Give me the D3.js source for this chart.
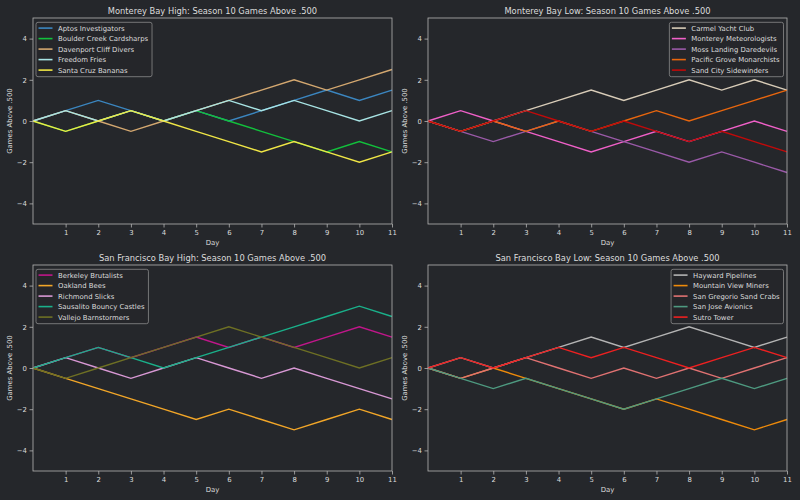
<!DOCTYPE html>
<html><head><meta charset="utf-8">
<script src="https://cdn.jsdelivr.net/npm/d3@7"></script>
<style>
html,body{margin:0;padding:0;background:#25272b;}
svg{display:block;font-family:"DejaVu Sans",sans-serif;}
</style></head>
<body><svg id="chart" width="800" height="500"></svg>
<script>
const days = [0,1,2,3,4,5,6,7,8,9,10,11];
const xTicks = [1,2,3,4,5,6,7,8,9,10,11];
const yTicks = [-4,-2,0,2,4];

const titles = [
  "Monterey Bay High: Season 10 Games Above .500",
  "Monterey Bay Low: Season 10 Games Above .500",
  "San Francisco Bay High: Season 10 Games Above .500",
  "San Francisco Bay Low: Season 10 Games Above .500"
];

// Monterey Bay High
const mbhTeams = ["Aptos Investigators","Boulder Creek Cardsharps","Davenport Cliff Divers","Freedom Fries","Santa Cruz Bananas"];
const mbhColors = ["#3b86c0","#12c03c","#d4a870","#a8e4e4","#f0e646"];
const aptos     = [0,0.5,1,0.5,0,0.5,0,0.5,1,1.5,1,1.5];
const boulder   = [0,-0.5,0,0.5,0,0.5,0,-0.5,-1,-1.5,-1,-1.5];
const davenport = [0,0.5,0,-0.5,0,0.5,1,1.5,2,1.5,2,2.5];
const freedom   = [0,0.5,0,0.5,0,0.5,1,0.5,1,0.5,0,0.5];
const santaCruz = [0,-0.5,0,0.5,0,-0.5,-1,-1.5,-1,-1.5,-2,-1.5];

// Monterey Bay Low
const mblTeams = ["Carmel Yacht Club","Monterey Meteorologists","Moss Landing Daredevils","Pacific Grove Monarchists","Sand City Sidewinders"];
const mblColors = ["#d8ccb8","#f060c8","#9a5aa8","#e8660e","#c00a0a"];
const carmel   = [0,-0.5,0,0.5,1,1.5,1,1.5,2,1.5,2,1.5];
const montMet  = [0,0.5,0,-0.5,-1,-1.5,-1,-0.5,-1,-0.5,0,-0.5];
const moss     = [0,-0.5,-1,-0.5,0,-0.5,-1,-1.5,-2,-1.5,-2,-2.5];
const pacific  = [0,-0.5,0,-0.5,0,-0.5,0,0.5,0,0.5,1,1.5];
const sandCity = [0,-0.5,0,0.5,0,-0.5,0,-0.5,-1,-0.5,-1,-1.5];

// San Francisco Bay High
const sfhTeams = ["Berkeley Brutalists","Oakland Bees","Richmond Slicks","Sausalito Bouncy Castles","Vallejo Barnstormers"];
const sfhColors = ["#c0168a","#f2a628","#d898d4","#1ab08a","#6e7024"];
const berkeley  = [0,0.5,1,0.5,1,1.5,1,1.5,1,1.5,2,1.5];
const oakland   = [0,-0.5,-1,-1.5,-2,-2.5,-2,-2.5,-3,-2.5,-2,-2.5];
const richmond  = [0,0.5,0,-0.5,0,0.5,0,-0.5,0,-0.5,-1,-1.5];
const sausalito = [0,0.5,1,0.5,0,0.5,1,1.5,2,2.5,3,2.5];
const vallejo   = [0,-0.5,0,0.5,1,1.5,2,1.5,1,0.5,0,0.5];

// San Francisco Bay Low
const sflTeams = ["Hayward Pipelines","Mountain View Miners","San Gregorio Sand Crabs","San Jose Avionics","Sutro Tower"];
const sflColors = ["#b4b4b4","#ee8a0a","#e07272","#4e9a80","#ee2020"];
const hayward   = [0,0.5,0,0.5,1,1.5,1,1.5,2,1.5,1,1.5];
const mtnView   = [0,-0.5,0,-0.5,-1,-1.5,-2,-1.5,-2,-2.5,-3,-2.5];
const gregorio  = [0,-0.5,0,0.5,0,-0.5,0,-0.5,0,-0.5,0,0.5];
const sanJose   = [0,-0.5,-1,-0.5,-1,-1.5,-2,-1.5,-1,-0.5,-1,-0.5];
const sutro     = [0,0.5,0,0.5,1,0.5,1,0.5,0,0.5,1,0.5];

const panels = [
  {title:titles[0], teams:mbhTeams, colors:mbhColors, series:[aptos,boulder,davenport,freedom,santaCruz], x:33, y:18, legend:"left"},
  {title:titles[1], teams:mblTeams, colors:mblColors, series:[carmel,montMet,moss,pacific,sandCity], x:428, y:18, legend:"right"},
  {title:titles[2], teams:sfhTeams, colors:sfhColors, series:[berkeley,oakland,richmond,sausalito,vallejo], x:33, y:265, legend:"left"},
  {title:titles[3], teams:sflTeams, colors:sflColors, series:[hayward,mtnView,gregorio,sanJose,sutro], x:428, y:265, legend:"right"}
];

const W = 359, H = 206;
const bg = "#25272b", fg = "#dcdcdc", frame = "#b4b4b4";
const fs = "6.9px", titleFs = "8.3px";
const svg = d3.select("#chart");
svg.append("rect").attr("width",800).attr("height",500).attr("fill",bg);

panels.forEach(p => {
  const g = svg.append("g").attr("transform",`translate(${p.x},${p.y})`);
  const x = d3.scaleLinear().domain([0,11]).range([0,W]);
  const y = d3.scaleLinear().domain([-5,5]).range([H,0]);

  const line = d3.line().x((d,i)=>x(days[i])).y(d=>y(d));
  p.series.forEach((s,i)=>{
    g.append("path").datum(s).attr("d",line).attr("fill","none")
      .attr("stroke",p.colors[i]).attr("stroke-width",1.4).attr("stroke-linejoin","miter");
  });

  const xa = g.append("g").attr("transform",`translate(0,${H})`)
    .call(d3.axisBottom(x).tickValues(xTicks).tickSize(3.5).tickPadding(2.5).tickFormat(d3.format("d")));
  const ya = g.append("g")
    .call(d3.axisLeft(y).tickValues(yTicks).tickSize(3.5).tickPadding(2.5).tickFormat(d=>d<0?"\u2212"+Math.abs(d):d));
  [xa,ya].forEach(a=>{
    a.select(".domain").remove();
    a.selectAll("line").attr("stroke",frame).attr("stroke-width",0.8);
    a.selectAll("text").attr("fill",fg).style("font-size",fs).style("font-family","'DejaVu Sans',sans-serif");
  });

  g.append("rect").attr("width",W).attr("height",H).attr("fill","none")
    .attr("stroke",frame).attr("stroke-width",0.8);

  g.append("text").attr("x",W/2).attr("y",-4).attr("text-anchor","middle")
    .attr("fill",fg).style("font-size",titleFs).text(p.title);
  g.append("text").attr("x",W/2).attr("y",H+21).attr("text-anchor","middle")
    .attr("fill",fg).style("font-size",fs).text("Day");
  g.append("text").attr("transform",`translate(-21,${H/2}) rotate(-90)`).attr("text-anchor","middle")
    .attr("fill",fg).style("font-size",fs).text("Games Above .500");

  // legend
  const lg = g.append("g");
  const rowH = 10.5;
  const items = lg.selectAll("g.item").data(p.teams).enter().append("g")
    .attr("transform",(d,i)=>`translate(0,${i*rowH})`);
  items.append("line").attr("x1",2.5).attr("x2",16.5).attr("y1",0).attr("y2",0)
    .attr("stroke",(d,i)=>p.colors[i]).attr("stroke-width",1.6);
  items.append("text").attr("x",22).attr("y",2.5).attr("fill",fg).style("font-size",fs).text(d=>d);
  const bb = lg.node().getBBox();
  const boxW = bb.x + bb.width + 3.5, boxH = 54.4;
  const bx = p.legend === "left" ? 3 : W - 3.5 - boxW;
  lg.insert("rect",":first-child").attr("x",0).attr("y",-5.8).attr("width",boxW).attr("height",boxH)
    .attr("rx",2).attr("fill",bg).attr("fill-opacity",0.8).attr("stroke","#8a8a8a").attr("stroke-width",0.8);
  lg.attr("transform",`translate(${bx},${4.3+5.8})`);
});
</script></body></html>
